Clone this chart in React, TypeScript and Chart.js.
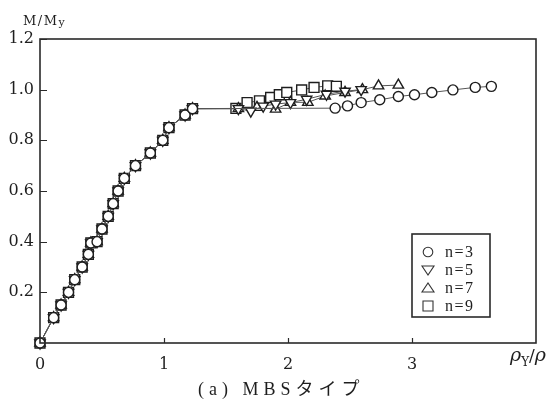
import { useEffect, useRef } from 'react';
import { Chart, registerables } from 'chart.js';

Chart.register(...registerables);

// Shared elastic branch (all n follow the same rising curve)
const riseX = [0, 0.11, 0.17, 0.23, 0.28, 0.34, 0.39, 0.41, 0.46, 0.5, 0.55, 0.59, 0.63, 0.68, 0.77, 0.89, 0.99, 1.04, 1.17, 1.23];
const riseY = [0, 0.1, 0.15, 0.2, 0.25, 0.3, 0.35, 0.395, 0.4, 0.45, 0.5, 0.55, 0.6, 0.65, 0.7, 0.75, 0.8, 0.85, 0.9, 0.925];

// Branches after the plateau, one per n
const n3X = [2.38, 2.48, 2.59, 2.74, 2.89, 3.02, 3.16, 3.33, 3.51, 3.64];
const n3Y = [0.927, 0.936, 0.949, 0.96, 0.973, 0.98, 0.989, 0.999, 1.009, 1.013];
const n5X = [1.6, 1.7, 1.8, 1.9, 2.02, 2.15, 2.31, 2.46, 2.59];
const n5Y = [0.925, 0.915, 0.935, 0.943, 0.949, 0.962, 0.982, 0.994, 1.0];
const n7X = [1.6, 1.75, 1.9, 2.02, 2.16, 2.3, 2.46, 2.6, 2.73, 2.89];
const n7Y = [0.925, 0.93, 0.923, 0.95, 0.95, 0.975, 0.989, 1.0, 1.015, 1.018];
const n9X = [1.58, 1.67, 1.77, 1.86, 1.93, 1.99, 2.11, 2.21, 2.32, 2.39];
const n9Y = [0.926, 0.949, 0.956, 0.969, 0.98, 0.989, 0.999, 1.009, 1.015, 1.013];

const seriesNames = ['n=3', 'n=5', 'n=7', 'n=9'];
const xTickLabels = ['0', '1', '2', '3'];
const yTickLabels = ['0.2', '0.4', '0.6', '0.8', '1.0', '1.2'];

const INK = '#1e1e1e';

function toPoints(xs: number[], ys: number[]) {
  return xs.map((x, i) => ({ x, y: ys[i] }));
}

function branch(xs: number[], ys: number[]) {
  return [...toPoints(riseX, riseY), ...toPoints(xs, ys)];
}

const decorPlugin = {
  id: 'decor',
  afterDraw(chart: any) {
    const { ctx, chartArea } = chart;
    const { left, right, top, bottom } = chartArea;
    const xs = chart.scales.x;
    const ys = chart.scales.y;
    ctx.save();

    // frame
    ctx.strokeStyle = '#2a2a2a';
    ctx.lineWidth = 1.6;
    ctx.strokeRect(left, top, right - left, bottom - top);

    // inward tick marks
    ctx.lineWidth = 1.2;
    ctx.beginPath();
    yTickLabels.forEach((t) => {
      const py = Math.round(ys.getPixelForValue(parseFloat(t))) + 0.5;
      ctx.moveTo(left, py);
      ctx.lineTo(left + 7, py);
    });
    xTickLabels.slice(1).forEach((t) => {
      const px = Math.round(xs.getPixelForValue(parseFloat(t))) + 0.5;
      ctx.moveTo(px, bottom);
      ctx.lineTo(px, bottom - 5);
    });
    ctx.stroke();

    // y-axis title
    ctx.fillStyle = INK;
    ctx.textBaseline = 'alphabetic';
    ctx.textAlign = 'left';
    (ctx as any).letterSpacing = '1.5px';
    ctx.font = '13px "DejaVu Serif"';
    ctx.fillText('M/M', 23, 25);
    const mw = ctx.measureText('M/M').width;
    ctx.font = '11px "DejaVu Serif"';
    ctx.fillText('y', 23 + mw, 26);

    // x-axis title  ρY/ρ
    (ctx as any).letterSpacing = '0px';
    let cx = 510;
    ctx.font = 'italic 19px "DejaVu Serif"';
    ctx.fillText('ρ', cx, 361);
    cx += ctx.measureText('ρ').width;
    ctx.font = '12px "DejaVu Serif"';
    ctx.fillText('Y', cx, 366);
    cx += ctx.measureText('Y').width;
    ctx.font = '17px "DejaVu Serif"';
    ctx.fillText('/', cx, 361);
    cx += ctx.measureText('/').width;
    ctx.font = 'italic 19px "DejaVu Serif"';
    ctx.fillText('ρ', cx, 361);

    // legend box
    const bx = 412, by = 234, bw = 78, bh = 83;
    ctx.lineWidth = 1.6;
    ctx.strokeStyle = '#2a2a2a';
    ctx.strokeRect(bx, by, bw, bh);
    const rows = [252, 270, 288, 306];
    const sx = 428;
    ctx.lineWidth = 1.1;
    ctx.strokeStyle = '#333';
    rows.forEach((ry, i) => {
      ctx.beginPath();
      if (i === 0) {
        ctx.arc(sx, ry, 4.8, 0, Math.PI * 2);
      } else if (i === 1) {
        ctx.moveTo(sx - 6, ry - 4);
        ctx.lineTo(sx + 6, ry - 4);
        ctx.lineTo(sx, ry + 5);
        ctx.closePath();
      } else if (i === 2) {
        ctx.moveTo(sx - 6, ry + 4);
        ctx.lineTo(sx + 6, ry + 4);
        ctx.lineTo(sx, ry - 5);
        ctx.closePath();
      } else {
        ctx.rect(sx - 5, ry - 5, 10, 10);
      }
      ctx.stroke();
    });
    ctx.font = '16px "Liberation Serif"';
    (ctx as any).letterSpacing = '1.5px';
    ctx.textBaseline = 'middle';
    rows.forEach((ry, i) => {
      ctx.fillText(seriesNames[i], 445, ry + 1);
    });

    // caption
    ctx.textBaseline = 'alphabetic';
    (ctx as any).letterSpacing = '5px';
    ctx.font = '18px "Liberation Serif", "Noto Sans CJK JP"';
    ctx.fillText('(a) MBSタイプ', 198, 395);

    ctx.restore();
  },
};

export default function App() {
  const ref = useRef<HTMLCanvasElement | null>(null);

  useEffect(() => {
    if (!ref.current) return;
    const common = {
      showLine: true,
      borderColor: '#555',
      borderWidth: 1,
      pointBackgroundColor: '#fff',
      pointBorderColor: INK,
      pointBorderWidth: 1.4,
      clip: false as const,
    };
    const chart = new Chart(ref.current, {
      type: 'scatter',
      data: {
        datasets: [
          { ...common, label: seriesNames[0], data: branch(n3X, n3Y), pointStyle: 'circle', pointRadius: 5 },
          { ...common, label: seriesNames[1], data: branch(n5X, n5Y), pointStyle: 'triangle', pointRotation: 180, pointRadius: 6 },
          { ...common, label: seriesNames[2], data: branch(n7X, n7Y), pointStyle: 'triangle', pointRadius: 6 },
          { ...common, label: seriesNames[3], data: branch(n9X, n9Y), pointStyle: 'rect', pointRadius: 7 },
        ],
      },
      options: {
        animation: false,
        responsive: false,
        layout: { padding: { top: 39, right: 19, left: 0, bottom: 0 } },
        plugins: { legend: { display: false }, tooltip: { enabled: false } },
        scales: {
          x: {
            type: 'linear',
            min: 0,
            max: 4,
            grid: { display: false, drawTicks: false },
            border: { display: false },
            afterFit: (s: any) => { s.height = 59; },
            ticks: {
              stepSize: 1,
              autoSkip: false,
              padding: 12,
              maxRotation: 0,
              color: INK,
              font: { family: 'DejaVu Serif', size: 16 },
              callback: (v: any) => (v < xTickLabels.length ? xTickLabels[v] : ''),
            },
          },
          y: {
            type: 'linear',
            min: 0,
            max: 1.2,
            grid: { display: false, drawTicks: false },
            border: { display: false },
            afterFit: (s: any) => { s.width = 40; },
            ticks: {
              stepSize: 0.2,
              autoSkip: false,
              padding: 6,
              color: INK,
              font: { family: 'DejaVu Serif', size: 16 },
              callback: (_v: any, i: number) => (i === 0 ? '' : yTickLabels[i - 1]),
            },
          },
        },
      },
      plugins: [decorPlugin],
    });
    return () => chart.destroy();
  }, []);

  return (
    <div style={{ position: 'absolute', left: 0, top: 0, width: 555, height: 402, background: '#fff' }}>
      <canvas ref={ref} width={555} height={402} />
    </div>
  );
}
